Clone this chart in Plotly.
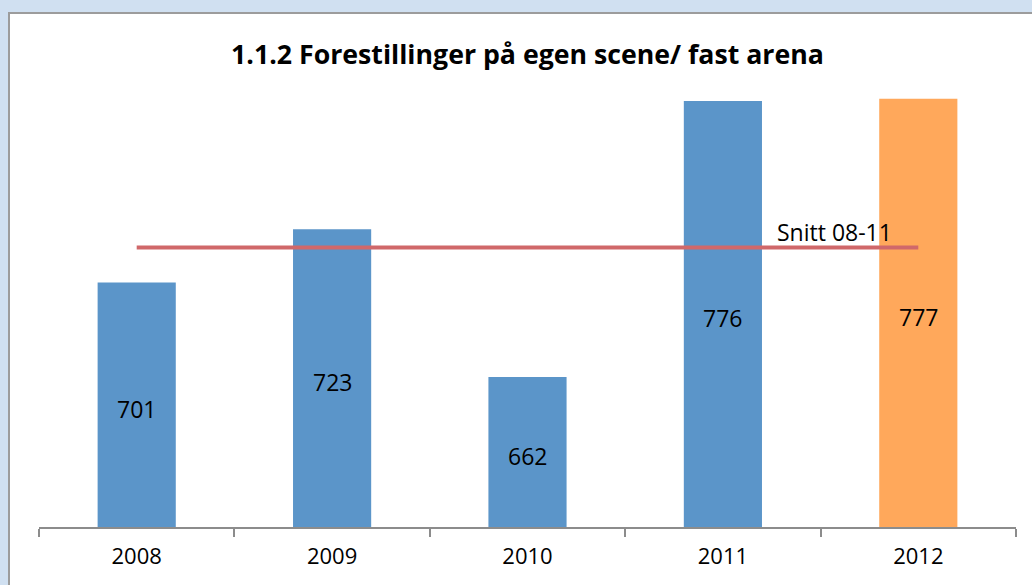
import plotly.graph_objects as go

years = ["2008", "2009", "2010", "2011", "2012"]
values = [701, 723, 662, 776, 777]
bar_colors = ["#5B95C9", "#5B95C9", "#5B95C9", "#5B95C9", "#FFA85B"]
avg_label = "Snitt 08-11"
title_text = "1.1.2 Forestillinger på egen scene/ fast arena"

y_min, y_max = 600, 800
avg_val = sum(values[:4]) / 4

FONT = "'Open Sans', 'Noto Sans', sans-serif"

fig = go.Figure()
fig.add_trace(go.Bar(
    x=years, y=values, marker=dict(color=bar_colors, line=dict(width=0)),
    width=0.4, showlegend=False, hoverinfo="x+y",
))
fig.add_trace(go.Scatter(
    x=[years[0], years[-1]], y=[avg_val, avg_val], mode="lines",
    line=dict(color="#D0686A", width=4), showlegend=False, hoverinfo="skip",
))
for i, v in enumerate(values):
    fig.add_annotation(
        x=i, y=(y_min + v) / 2, text=str(v), showarrow=False, yshift=-4,
        font=dict(size=23, color="#000000", family=FONT),
    )
fig.add_annotation(
    x=len(years) - 1, y=avg_val, text=avg_label, showarrow=False,
    xshift=-84, yanchor="bottom", yshift=-3,
    font=dict(size=23, color="#000000", family=FONT),
)

L, R, T, B, W, H = 39, 16, 43, 58, 1032, 585
pw, ph = W - L - R, H - T - B
def px_x(p):
    return (p - L) / pw
def px_y(p):
    return (H - B - p) / ph
fig.add_shape(type="rect", xref="paper", yref="paper",
              x0=px_x(9), x1=px_x(1060), y0=px_y(13), y1=px_y(620),
              fillcolor="#FFFFFF", line=dict(color="#9C9C9C", width=2), layer="below")

fig.update_layout(
    width=W, height=H,
    margin=dict(l=L, r=R, t=T, b=B),
    paper_bgcolor="#D0E0F1",
    plot_bgcolor="rgba(0,0,0,0)",
    title=dict(text="<b>" + title_text + "</b>", x=527.5 / W, xanchor="center",
               y=1 - 55 / H, yanchor="middle", yref="container",
               font=dict(size=26.7, color="#000000", family=FONT)),
    xaxis=dict(type="category", categoryorder="array", categoryarray=years,
               range=[-0.5, len(years) - 0.5], autorange=False,
               showgrid=False, showline=True, linecolor="#8C8C8C", linewidth=2,
               ticks="outside", tickson="boundaries", ticklen=8, tickcolor="#8C8C8C", tickwidth=2,
               tickangle=0, ticklabelstandoff=9,
               tickfont=dict(size=22, color="#000000", family=FONT), zeroline=False),
    yaxis=dict(range=[y_min, y_max], autorange=False, visible=False, showgrid=False, zeroline=False),
)

fig.write_html("out.html", config={"displayModeBar": False},
               post_script="document.body.style.margin='0';")
